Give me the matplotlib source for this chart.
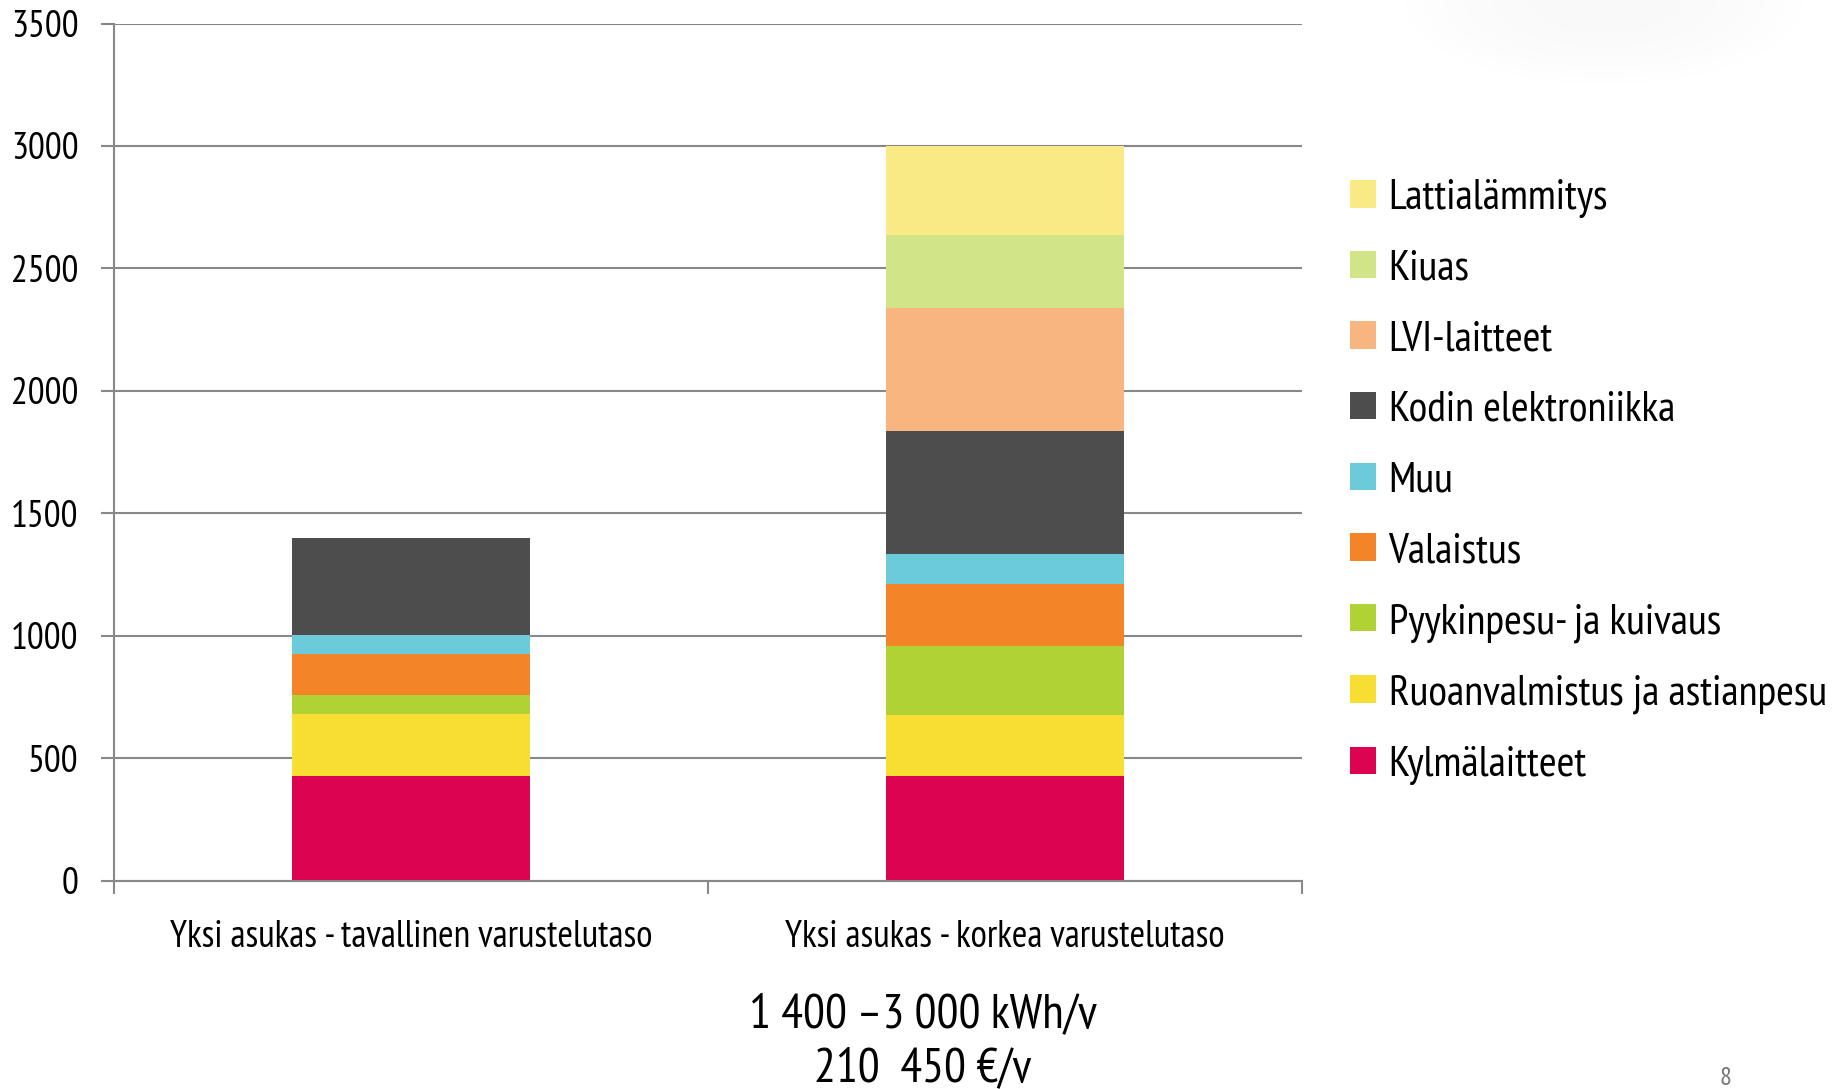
import matplotlib
matplotlib.use("Agg")
import matplotlib.pyplot as plt
from matplotlib.patches import Patch
import numpy as np

plt.rcParams['font.family'] = ['PT Sans Narrow', 'DejaVu Sans']

# ---------------- data ----------------
categories = ['Yksi asukas - tavallinen varustelutaso',
              'Yksi asukas - korkea varustelutaso']

# stacking order bottom -> top
series_names = ['Kylmälaitteet', 'Ruoanvalmistus ja astianpesu', 'Pyykinpesu- ja kuivaus',
                'Valaistus', 'Muu', 'Kodin elektroniikka', 'LVI-laitteet', 'Kiuas',
                'Lattialämmitys']
kylma = [428, 428]
ruoka = [252, 250]
pyykki = [79, 280]
valaistus = [166, 255]
muu = [79, 120]
elektroniikka = [396, 505]
lvi = [0, 500]
kiuas = [0, 300]
lattia = [0, 362]

colors = ['#DC0450', '#F8DE33', '#B0D235', '#F48428', '#6CCBDB', '#4D4D4D',
          '#F9B57F', '#D2E488', '#F9EA86']

yticks = [0, 500, 1000, 1500, 2000, 2500, 3000, 3500]
summary_line1 = '1 400 \u20133 000 kWh/v'
summary_line2 = '210  450 \u20ac/v'
page_no = '8'

# ---------------- plot ----------------
fig = plt.figure(figsize=(18.39, 10.89), dpi=100)

# faint shadow in the top right corner (slide decoration)
deco = fig.add_axes([0.70, 0.90, 0.30, 0.10], zorder=-1)
gx, gy = np.meshgrid(np.linspace(-1, 1, 200), np.linspace(0, 1, 60))
shade = np.clip(1 - ((gx - 0.15) / 0.75) ** 2 - ((1 - gy) / 0.8) ** 2, 0, 1)
deco.imshow(shade, cmap='Greys', vmin=0, vmax=20, origin='lower',
            aspect='auto', extent=[0, 1, 0, 1])
deco.axis('off')

ax = fig.add_axes([0.0619, 0.1912, 0.6460, 0.7872])
ax.patch.set_alpha(0)

values = [kylma, ruoka, pyykki, valaistus, muu, elektroniikka, lvi, kiuas, lattia]
x = np.arange(len(categories))
bottom = np.zeros(len(categories))
for name, vals, col in zip(series_names, values, colors):
    vals = np.array(vals, dtype=float)
    ax.bar(x, vals, width=0.4, bottom=bottom, color=col, label=name, zorder=3)
    bottom += vals

grid_col = '#888888'
ax.set_ylim(0, 3500)
ax.set_xlim(-0.5, 1.5)
ax.set_yticks(yticks)
ax.yaxis.grid(True, color=grid_col, linewidth=1.5, zorder=0)
for s in ['top', 'right']:
    ax.spines[s].set_visible(False)
for s in ['left', 'bottom']:
    ax.spines[s].set_color(grid_col)
    ax.spines[s].set_linewidth(1.5)
    ax.spines[s].set_zorder(4)

ax.tick_params(axis='y', length=9.5, width=1.5, color=grid_col, pad=16,
               labelsize=27, labelcolor='black')
ax.set_xticks(x)
ax.set_xticklabels(categories)
ax.set_xticks([-0.5, 0.5, 1.5], minor=True)
ax.tick_params(axis='x', which='major', length=0, pad=28, labelsize=27)
ax.tick_params(axis='x', which='minor', length=9, width=1.5, color=grid_col)

# legend, top entry first
handles = [Patch(facecolor=c, edgecolor='none') for c in colors][::-1]
leg = fig.legend(handles, series_names[::-1], loc='upper left',
                 bbox_to_anchor=(0.734, 0.8356), frameon=False, fontsize=31,
                 handlelength=0.6, handleheight=0.6, handletextpad=0.3,
                 labelspacing=0.735, borderaxespad=0, borderpad=0)

fig.text(0.502, 0.068, summary_line1, ha='center', va='center', fontsize=35)
fig.text(0.502, 0.018, summary_line2, ha='center', va='center', fontsize=35)
fig.text(0.938, 0.010, page_no, ha='center', va='center', fontsize=19, color='#777777')

fig.savefig('out.png', dpi=100)
